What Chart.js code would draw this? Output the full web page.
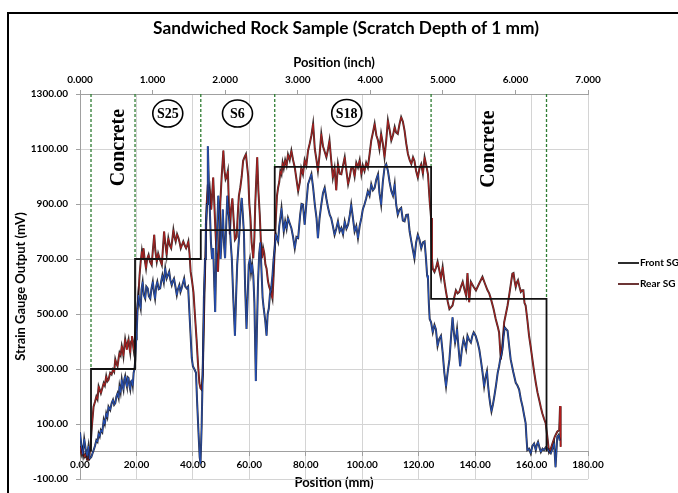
<!DOCTYPE html>
<html><head><meta charset="utf-8">
<script src="https://cdn.jsdelivr.net/npm/chart.js@4.4.1/dist/chart.umd.min.js"></script>
<style>html,body{margin:0;padding:0;background:#fff;}canvas{display:block;}</style>
</head><body>
<canvas id="c" width="678" height="493"></canvas>
<script>
const chartTitle = 'Sandwiched Rock Sample (Scratch Depth of 1 mm)';
const mmAxisTitle = 'Position (mm)';
const inchAxisTitle = 'Position (inch)';
const mvAxisTitle = 'Strain Gauge Output (mV)';
const seriesNames = ['Front SG', 'Rear SG'];
const mmTicks = [0, 20, 40, 60, 80, 100, 120, 140, 160, 180];
const inchTicks = [0, 1, 2, 3, 4, 5, 6, 7];
const mvTicks = [-100, 100, 300, 500, 700, 900, 1100, 1300];

// [position mm, output mV]
const frontSG = [[0,70],[0.5,20],[1,-10],[1.5,45],[2,10],[2.5,-15],[3,20],[3.4,-27],[4,-20],[4.8,4],[5.3,20],[5.8,41],[6.2,35],[6.6,66],[7,55],[7.4,78],[7.9,70],[8.4,115],[8.8,100],[9.3,139],[9.7,125],[10.1,163],[10.7,151],[11.2,175],[11.7,188],[12.1,170],[12.5,176],[12.9,200],[13.3,212],[13.7,195],[14,237],[14.4,215],[14.8,261],[15.1,240],[15.4,225],[15.7,262],[16,274],[16.3,250],[16.6,237],[16.9,270],[17.2,267],[17.5,240],[17.8,225],[18.1,255],[18.4,261],[18.7,240],[19,286],[19.3,300],[19.6,335],[19.9,408],[20.1,433],[20.4,520],[20.7,569],[21.1,540],[21.5,520],[21.8,590],[22.2,617],[22.6,570],[23.1,556],[23.5,600],[24,593],[24.4,565],[24.9,556],[25.3,590],[25.8,617],[26.2,580],[26.6,556],[27,600],[27.4,617],[27.9,590],[28.4,593],[28.8,620],[29.2,641],[29.7,615],[30.2,666],[30.7,629],[31.1,640],[31.6,654],[32,625],[32.5,605],[32.9,620],[33.3,629],[33.8,600],[34.3,569],[34.7,590],[35.2,605],[35.6,580],[36,593],[36.4,610],[36.9,629],[37.3,600],[37.8,593],[38.3,600],[38.7,520],[39.2,420],[39.6,340],[40,310],[40.5,300],[41.1,286],[41.5,180],[42,66],[42.4,-20],[42.7,-44],[43.1,90],[43.5,300],[43.9,560],[44.3,700],[44.6,825],[45,900],[45.3,1110],[45.7,960],[46,880],[46.4,760],[46.8,700],[47.2,740],[47.6,600],[47.9,507],[48.3,720],[48.7,840],[49,930],[49.4,860],[49.8,700],[50.2,780],[50.6,880],[51,760],[51.4,703],[51.8,820],[52.2,930],[52.6,870],[53,840],[53.4,760],[53.8,700],[54.3,560],[54.9,421],[55.3,560],[55.7,680],[56.1,740],[56.5,800],[56.9,880],[57.3,922],[57.7,860],[58.1,790],[58.5,600],[59,446],[59.4,560],[59.8,680],[60.2,700],[60.6,650],[61,680],[61.4,640],[61.8,540],[62.3,256],[62.7,450],[63.1,620],[63.5,720],[63.9,760],[64.3,660],[64.7,560],[65.1,520],[65.6,480],[66.1,421],[66.5,500],[66.9,520],[67.3,570],[67.8,600],[68.2,640],[68.6,700],[69,740],[69.4,790],[70.2,763],[70.6,820],[71,850],[71.4,885],[71.8,840],[72.2,800],[72.7,837],[73.2,810],[73.7,849],[74.3,830],[74.9,812],[75.5,780],[76.1,739],[76.7,780],[77.3,776],[78,860],[78.5,900],[79,898],[79.6,825],[80.2,900],[80.8,972],[81.4,990],[82,1009],[82.6,960],[83.2,898],[83.8,850],[84.3,776],[84.9,850],[85.5,898],[86.1,940],[86.7,959],[87.3,920],[87.9,886],[88.5,860],[89,849],[89.6,820],[90.2,788],[90.8,810],[91.4,837],[92,800],[92.6,813],[93.2,790],[93.8,837],[94.4,810],[95,825],[95.6,860],[96.1,898],[96.7,850],[97.3,800],[97.9,820],[98.5,776],[99.1,820],[99.7,849],[100.2,880],[100.8,898],[101.4,920],[102,947],[102.6,930],[103.2,972],[103.8,950],[104.4,959],[105,990],[105.6,1008],[106.1,940],[106.7,898],[107.3,980],[107.9,1032],[108.5,1045],[109.1,1021],[109.7,980],[110.3,947],[110.9,930],[111.5,972],[112,900],[112.6,861],[113.2,880],[113.8,886],[114.4,840],[115,837],[115.6,860],[116.2,861],[116.8,800],[117.4,764],[118,730],[118.5,702],[119.1,760],[119.7,788],[120.3,770],[120.9,739],[121.5,760],[122.1,764],[122.6,700],[123,640],[123.3,629],[123.6,540],[123.9,482],[124.4,470],[125,433],[125.6,460],[126.1,445],[126.7,384],[127.3,410],[127.9,421],[128.5,360],[129.1,286],[129.7,237],[130.3,290],[130.9,335],[131.5,420],[132,488],[132.5,430],[132.9,396],[133.3,420],[133.6,445],[134.1,380],[134.7,310],[135.3,370],[135.9,408],[136.4,390],[136.8,372],[137.3,421],[137.9,405],[138.5,396],[139,420],[139.5,433],[140.2,420],[140.9,396],[141.5,370],[142,335],[142.6,290],[143.2,237],[143.7,270],[144.2,292],[144.6,240],[145,200],[145.4,170],[145.8,146],[146.3,170],[146.8,200],[147.4,240],[148,286],[148.5,310],[148.9,335],[149.3,350],[149.7,372],[150.1,420],[150.5,451],[151,445],[151.5,439],[152,390],[152.6,335],[153.5,290],[154.4,250],[155,240],[155.6,225],[156.2,190],[156.8,164],[157.4,130],[157.9,103],[158.2,50],[158.5,5],[159.1,10],[159.7,-7],[160.3,20],[160.9,29],[161.5,5],[161.9,25],[162.3,35],[162.8,15],[163.3,-2],[163.9,10],[164.4,5],[165,15],[165.6,11],[166.2,0],[166.8,-7],[167.4,10],[168,29],[168.5,-57],[169.1,53],[169.6,60],[170,40]];

const rearSG = [[0,20],[0.5,-10],[1,10],[1.5,-20],[2,-10],[2.5,-30],[3,-30],[3.4,-9],[3.8,30],[4.2,90],[4.8,163],[5.3,180],[5.8,200],[6.2,190],[6.6,237],[7,225],[7.4,212],[7.9,230],[8.4,249],[8.8,240],[9.3,274],[9.7,255],[10.1,261],[10.7,286],[11.2,280],[11.7,298],[12.1,290],[12.5,335],[12.9,320],[13.3,310],[13.7,340],[14,359],[14.4,350],[14.8,384],[15.1,370],[15.4,347],[15.7,380],[16,408],[16.3,390],[16.6,371],[16.9,395],[17.2,408],[17.5,380],[17.8,359],[18.1,400],[18.4,420],[18.7,395],[19,371],[19.3,400],[19.6,433],[19.9,482],[20.1,494],[20.4,530],[20.7,569],[21.1,640],[21.5,690],[21.9,727],[22.2,700],[22.5,739],[22.9,700],[23.4,666],[23.8,700],[24.3,715],[24.8,690],[25.4,678],[25.8,730],[26.3,788],[26.7,730],[27.2,690],[27.7,720],[28.2,702],[28.6,690],[29,678],[29.4,740],[29.8,800],[30.2,760],[30.7,715],[31,750],[31.3,776],[31.8,750],[32.3,739],[32.7,770],[33.1,806],[33.5,780],[33.9,764],[34.4,790],[34.9,776],[35.3,760],[35.7,739],[36.1,750],[36.6,764],[37.1,750],[37.6,739],[38,750],[38.4,764],[38.8,720],[39.2,654],[39.7,620],[40.2,580],[40.7,500],[41.3,408],[41.8,320],[42.3,249],[42.7,230],[43.1,225],[43.5,280],[43.9,480],[44.4,700],[44.9,900],[45.3,971],[45.7,930],[46,952],[46.5,880],[47.2,996],[47.6,900],[48,800],[48.4,720],[48.9,654],[49.3,760],[49.7,900],[50.2,1000],[50.8,1094],[51.2,1020],[51.6,990],[52,1000],[52.4,1020],[52.8,880],[53.1,790],[53.5,880],[54,920],[54.4,850],[54.9,770],[55.5,780],[55.9,860],[56.3,930],[56.8,960],[57.3,1000],[57.8,1057],[58.3,1070],[58.8,1081],[59.2,1040],[59.6,1000],[60,900],[60.4,850],[60.8,760],[61.4,703],[61.8,780],[62.1,900],[62.5,1000],[62.8,1070],[63.2,950],[63.7,860],[64.1,760],[64.5,703],[64.9,740],[65.3,720],[65.7,680],[66.1,666],[66.6,620],[67,600],[67.5,585],[67.9,570],[68.2,556],[68.6,640],[69,739],[69.4,850],[69.8,930],[70.2,960],[70.6,980],[71,1020],[71.4,1008],[71.8,1050],[72.2,1030],[72.7,1060],[73.2,1040],[73.7,1080],[74.3,1060],[74.9,1094],[75.5,1060],[76.1,1033],[76.7,990],[77.3,947],[77.9,980],[78.4,1030],[79,1008],[79.6,1060],[80.2,1040],[80.8,1094],[81.4,1120],[82,1150],[82.6,1192],[83.2,1100],[83.8,1060],[84.3,1021],[84.9,1080],[85.5,1155],[86.1,1110],[86.7,1090],[87.3,1070],[87.9,1100],[88.4,1131],[89,1060],[89.6,996],[90.2,1030],[90.8,950],[91.4,1045],[92,1010],[92.6,1008],[93.2,1040],[93.8,1070],[94.4,1020],[95,972],[95.6,1000],[96.1,1030],[96.7,1033],[97.3,1000],[97.9,1050],[98.5,1033],[99.1,1060],[99.7,1008],[100.2,1040],[100.8,1020],[101.4,1050],[102,1033],[102.6,1080],[103.2,1131],[103.8,1160],[104.4,1192],[105,1150],[105.6,1131],[106.1,1100],[106.7,1155],[107.3,1120],[107.9,1070],[108.5,1130],[109.1,1204],[109.7,1170],[110.3,1131],[110.9,1150],[111.5,1180],[112,1160],[112.6,1155],[113.2,1190],[113.8,1216],[114.4,1200],[115,1167],[115.6,1120],[116.2,1082],[116.8,1060],[117.4,1045],[118,1070],[118.5,1057],[119.1,1020],[119.7,996],[120.3,1030],[120.9,1045],[121.5,1010],[122.1,1070],[122.7,1040],[123.3,1008],[123.9,910],[124.4,849],[124.7,700],[125,665],[125.6,653],[126.2,670],[126.7,690],[127.3,660],[127.9,629],[128.5,671],[129.1,620],[129.7,580],[130.3,545],[130.9,518],[131.5,525],[132,531],[132.6,560],[133.2,586],[133.8,575],[134.4,580],[135,600],[135.6,617],[136.2,590],[136.8,567],[137.3,649],[137.9,543],[138.5,617],[139.4,600],[140.3,586],[141.4,610],[142.6,635],[143.5,610],[144.4,586],[145,575],[145.6,555],[146.5,520],[147.3,482],[148,455],[148.5,433],[149.1,335],[149.6,380],[150.3,470],[150.9,500],[151.5,531],[152.1,570],[152.6,605],[153.2,647],[153.6,649],[154,620],[154.4,598],[154.8,615],[155.2,623],[155.7,600],[156.2,580],[156.7,586],[157.1,586],[157.5,540],[157.9,531],[158.5,480],[159.1,422],[159.7,380],[160.3,335],[160.9,290],[161.5,250],[162.1,215],[162.7,188],[163.3,160],[163.8,139],[164.4,120],[165,103],[165.6,53],[166.2,-2],[166.8,10],[167.4,29],[168.2,53],[169.1,72],[169.8,78],[170.1,165],[170.3,17]];

// average level per zone (step line)
const stepPos = [3.9, 3.9, 19.5, 19.5, 42.8, 42.8, 69.0, 69.0, 124.4, 124.4, 165.3, 165.3];
const stepMv  = [0, 300, 300, 700, 700, 805, 805, 1035, 1035, 555, 555, 0];
// zone boundaries (dashed) and the level they drop to
const boundaryPos = [3.9, 19.5, 42.8, 69.0, 124.4, 165.3];
const boundaryLow = [300, 700, 805, 1035, 1035, 555];
// zone labels
const zoneNames = ['Concrete', 'S25', 'S6', 'S18', 'Concrete'];
const zonePos = [13.8, 31.1, 55.8, 94.5, 144.9];
const zoneMv = [1105, 1229, 1229, 1231, 1100];

const toPts = arr => arr.map(p => ({x: p[0], y: p[1]}));
const stepPts = stepPos.map((v, i) => ({x: v, y: stepMv[i]}));
const dashPts = [];
boundaryPos.forEach((v, i) => {
  dashPts.push({x: v, y: mvTicks[mvTicks.length - 1]}, {x: v, y: boundaryLow[i]}, {x: v, y: null});
});

const FRONT = '#2353c6', REAR = '#b51d1d';
const BOLD = (size) => ({family: 'Lato', weight: 'bold', size});

const decor = {
  id: 'decor',
  afterDraw(chart) {
    const {ctx, scales: {x, y}} = chart;
    ctx.save();
    ctx.strokeStyle = '#000';
    ctx.lineWidth = 2;
    ctx.beginPath();
    ctx.moveTo(8, 493); ctx.lineTo(8, 13); ctx.lineTo(680, 13);
    ctx.stroke();

    ctx.fillStyle = '#000';
    ctx.font = 'bold 17.3px Lato';
    ctx.textAlign = 'center';
    ctx.textBaseline = 'middle';
    ctx.fillText(chartTitle, 346, 28);

    zoneNames.forEach((name, i) => {
      const px = x.getPixelForValue(zonePos[i]);
      const py = y.getPixelForValue(zoneMv[i]);
      ctx.fillStyle = '#000';
      if (name === 'Concrete') {
        ctx.save();
        ctx.translate(px, py);
        ctx.rotate(-Math.PI / 2);
        ctx.font = 'bold 20px "Liberation Serif"';
        ctx.textAlign = 'center';
        ctx.textBaseline = 'middle';
        ctx.fillText(name, 0, 0);
        ctx.restore();
      } else {
        ctx.lineWidth = 1.6;
        ctx.strokeStyle = '#000';
        ctx.beginPath();
        ctx.ellipse(px, py, 15, 13.5, 0, 0, Math.PI * 2);
        ctx.fillStyle = '#fff';
        ctx.fill();
        ctx.stroke();
        ctx.fillStyle = '#000';
        ctx.font = 'bold 14px "Liberation Serif"';
        ctx.textAlign = 'center';
        ctx.textBaseline = 'middle';
        ctx.fillText(name, px, py + 1);
      }
    });

    // legend
    const legendColors = ['#151515', '#5c1f1f'];
    seriesNames.forEach((name, i) => {
      const ly = 263 + i * 21;
      ctx.strokeStyle = legendColors[i];
      ctx.lineWidth = 1.8;
      ctx.beginPath(); ctx.moveTo(618, ly); ctx.lineTo(639, ly); ctx.stroke();
      ctx.fillStyle = '#000';
      ctx.font = 'bold 10px Lato';
      ctx.textAlign = 'left';
      ctx.textBaseline = 'middle';
      ctx.fillText(name, 640, ly);
    });
    ctx.restore();
  }
};

new Chart(document.getElementById('c'), {
  type: 'scatter',
  data: {
    datasets: [
      {label: 'avg', data: stepPts, showLine: true, borderColor: '#111', borderWidth: 1.8, pointRadius: 0, order: 0},
      {label: 'zones', data: dashPts, showLine: true, borderColor: '#2e7d32', borderWidth: 1.3, borderDash: [3, 2], pointRadius: 0, order: 1},
      {label: seriesNames[0], data: toPts(frontSG), showLine: true, borderColor: FRONT, borderWidth: 0.9, pointRadius: 0, order: 2},
      {label: 'fs', data: toPts(frontSG), showLine: true, borderColor: 'rgba(10,10,25,0.85)', borderWidth: 2.0, pointRadius: 0, order: 3},
      {label: seriesNames[1], data: toPts(rearSG), showLine: true, borderColor: REAR, borderWidth: 0.9, pointRadius: 0, order: 4},
      {label: 'rs', data: toPts(rearSG), showLine: true, borderColor: 'rgba(30,8,8,0.85)', borderWidth: 2.0, pointRadius: 0, order: 5}
    ]
  },
  options: {
    responsive: false,
    animation: false,
    events: [],
    layout: {padding: {left: 0, right: 90, top: 43.2, bottom: 0}},
    plugins: {
      legend: {display: false},
      tooltip: {enabled: false},
      title: {display: false}
    },
    scales: {
      x: {
        type: 'linear', position: {y: 0}, min: 0, max: 180,
        afterBuildTicks: s => { s.ticks = mmTicks.map(v => ({value: v})); },
        afterFit: s => { s.height = 18; },
        ticks: {callback: v => Number(v).toFixed(2), color: '#000', font: BOLD(10), padding: 3, maxRotation: 0, autoSkip: false},
        grid: {color: '#d4d4d4', tickLength: 4, tickColor: '#a0a0a0'},
        border: {color: '#a0a0a0'},
        title: {display: true, text: mmAxisTitle, color: '#000', font: BOLD(13), padding: {top: 0, bottom: -21.5}}
      },
      x2: {
        type: 'linear', position: 'top', min: 0, max: 7,
        afterBuildTicks: s => { s.ticks = inchTicks.map(v => ({value: v})); },
        afterFit: s => { s.height = 50.8; },
        ticks: {callback: v => Number(v).toFixed(3), color: '#000', font: BOLD(10), padding: 4, maxRotation: 0, autoSkip: false},
        grid: {drawOnChartArea: false, tickLength: 4, tickColor: '#a0a0a0'},
        border: {color: '#a0a0a0'},
        title: {display: true, text: inchAxisTitle, color: '#000', font: BOLD(13), padding: {top: 11.6, bottom: 0}}
      },
      y: {
        type: 'linear', position: 'left', min: -100, max: 1300,
        afterBuildTicks: s => { s.ticks = mvTicks.map(v => ({value: v})); },
        afterFit: s => { s.width = 80; },
        ticks: {callback: v => Number(v).toFixed(2), color: '#000', font: BOLD(10), padding: 8},
        grid: {color: '#d4d4d4', tickLength: 4, tickColor: '#a0a0a0'},
        border: {color: '#a0a0a0'},
        title: {display: true, text: mvAxisTitle, color: '#000', font: BOLD(13), padding: {top: 13, bottom: 0}}
      }
    }
  },
  plugins: [decor]
});
</script>
</body></html>
